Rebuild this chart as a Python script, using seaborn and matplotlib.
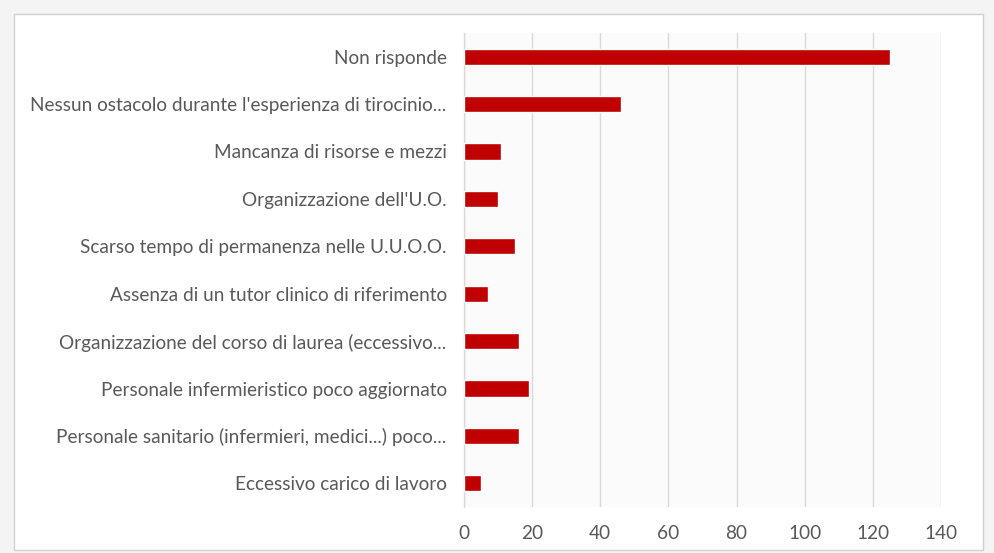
import matplotlib
matplotlib.use("Agg")
import matplotlib.pyplot as plt
from matplotlib.patches import Rectangle
import seaborn as sns
import pandas as pd

categories = [
    "Non risponde",
    "Nessun ostacolo durante l'esperienza di tirocinio...",
    "Mancanza di risorse e mezzi",
    "Organizzazione dell'U.O.",
    "Scarso tempo di permanenza nelle U.U.O.O.",
    "Assenza di un tutor clinico di riferimento",
    "Organizzazione del corso di laurea (eccessivo...",
    "Personale infermieristico poco aggiornato",
    "Personale sanitario (infermieri, medici...) poco...",
    "Eccessivo carico di lavoro",
]
values = [125, 46, 11, 10, 15, 7, 16, 19, 16, 5]
x_ticks = [0, 20, 40, 60, 80, 100, 120, 140]

df = pd.DataFrame({"categoria": categories, "risposte": values})

sns.set_theme(style="white")
plt.rcParams["font.family"] = ["Lato", "DejaVu Sans"]

text_color = "#595959"
grid_color = "#d9d9d9"
bar_color = "#c00000"

fig = plt.figure(figsize=(9.95, 5.53), dpi=100)
fig.patch.set_facecolor("#f4f4f4")

# white chart card with a thin grey border, kept behind the axes
card = Rectangle((14 / 995, 3 / 553), (983 - 14) / 995, (539 - 3) / 553,
                 transform=fig.transFigure, facecolor="white",
                 edgecolor="#d0d0d0", linewidth=1.0, zorder=-10)
fig.patches.append(card)

ax = fig.add_axes([464 / 995, 1 - 507 / 553, (941 - 464) / 995, (507 - 33) / 553])
ax.set_zorder(1)
ax.set_facecolor("#fbfbfb")

sns.barplot(data=df, x="risposte", y="categoria", orient="h",
            color=bar_color, saturation=1, width=0.34, ax=ax, zorder=3)

ax.set_xlim(0, 140)
ax.set_xticks(x_ticks)
ax.set_xticklabels([str(t) for t in x_ticks])
ax.set_ylim(len(categories) - 0.5, -0.5)

ax.set_xlabel("")
ax.set_ylabel("")
ax.xaxis.grid(True, color=grid_color, linewidth=1.0, zorder=0)
ax.yaxis.grid(False)
for side in ("top", "right", "bottom"):
    ax.spines[side].set_visible(False)
ax.spines["left"].set_color(grid_color)
ax.spines["left"].set_linewidth(1.0)

ax.tick_params(axis="both", length=0, colors=text_color, labelsize=13.7)
ax.tick_params(axis="y", pad=12.5)
ax.tick_params(axis="x", pad=13)

fig.savefig("out.png", dpi=100, facecolor=fig.get_facecolor())
